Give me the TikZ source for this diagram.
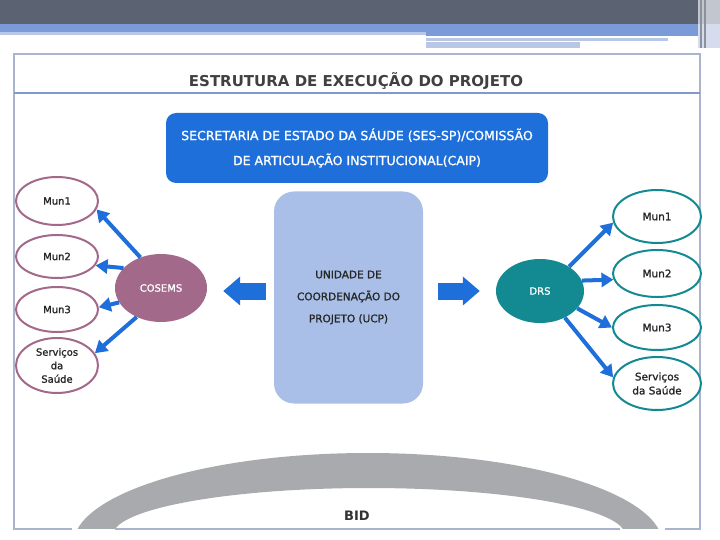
\documentclass[tikz,border=0pt]{standalone}
\usepackage{fontspec}
\setmainfont{DejaVu Sans}
\newfontfamily\thickfont[FakeBold=1.2]{DejaVu Sans}
\usetikzlibrary{arrows.meta,shapes.geometric}
\definecolor{topgray}{HTML}{5B6271}
\definecolor{edgegray}{HTML}{C2C6CF}
\definecolor{edgeblue}{HTML}{D5DCEE}
\definecolor{bandblue}{HTML}{7A9BD8}
\definecolor{paleblue}{HTML}{B9C7E6}
\definecolor{framegray}{HTML}{AAB4CF}
\definecolor{ruleblue}{HTML}{7F9BC9}
\definecolor{sesblue}{HTML}{1E6FD9}
\definecolor{ucpblue}{HTML}{A9BFE7}
\definecolor{cosemsred}{HTML}{A2698A}
\definecolor{drsteal}{HTML}{138A91}
\definecolor{bidgray}{HTML}{A8AAAE}
\definecolor{textgray}{HTML}{404040}
\begin{document}
\begin{tikzpicture}[x=1pt,y=-1pt,
  lmun/.style={ellipse,draw=cosemsred,line width=2pt,fill=white,minimum width=82,inner sep=0pt,align=center,text=black!85,font=\thickfont\fontsize{10}{13.5}\selectfont},
  rmun/.style={ellipse,draw=drsteal,line width=2pt,fill=white,minimum width=88,inner sep=0pt,align=center,text=black!85,font=\thickfont\fontsize{10.5}{14}\selectfont},
  thinarr/.style={draw=sesblue,line width=4pt,-{Triangle[length=12pt,width=14pt]}},
  blockarr/.style={draw=sesblue,line width=17pt,-{Triangle[length=17pt,width=28pt]}}]
  \useasboundingbox (0,0) rectangle (720,540);
  \fill[topgray] (0,0) rectangle (698,24);
  \fill[bandblue] (0,24) rectangle (698,32);
  \fill[paleblue] (0,32) rectangle (426,35);
  \fill[bandblue] (426,32) rectangle (698,36);
  \fill[paleblue] (426,38) rectangle (668,41);
  \fill[paleblue] (426,42) rectangle (580,48);
  \fill[edgegray] (698,0) rectangle (720,24);
  \fill[edgeblue] (698,24) rectangle (720,48);
  \foreach \x in {700,704}{ \fill[topgray!70] (\x,0) rectangle (\x+1.5,48); }

  \draw[framegray,line width=2.5pt] (72,529) -- (14,529) -- (14,54) -- (700,54) -- (700,529) -- (665,529);
  \draw[framegray,line width=2.5pt] (115,529) -- (620,529);
  \draw[ruleblue,line width=2.5pt] (14,93) -- (700,93);
  \node[text=textgray,font=\bfseries\fontsize{15}{18}\selectfont] (titulo) at (356,81) {ESTRUTURA DE EXECUÇÃO DO PROJETO};

  \node[fill=sesblue,rounded corners=10pt,minimum width=382,minimum height=70,align=center,text=white,font=\thickfont\fontsize{12.5}{25}\selectfont] (ses) at (357,148)
    {SECRETARIA DE ESTADO DA SÁUDE (SES-SP)/COMISSÃO\\DE ARTICULAÇÃO INSTITUCIONAL(CAIP)};
  \node[fill=ucpblue,rounded corners=20pt,minimum width=149,minimum height=212,align=center,text=black!85,font=\thickfont\fontsize{10.5}{22}\selectfont] (ucp) at (348.5,297.5)
    {UNIDADE DE\\COORDENAÇÃO DO\\PROJETO (UCP)};

  \node[ellipse,fill=cosemsred,minimum width=92,minimum height=68,inner sep=0pt,text=white,font=\thickfont\fontsize{10}{12}\selectfont] (cosems) at (161,288) {COSEMS};
  \node[ellipse,fill=drsteal,minimum width=88,minimum height=64,inner sep=0pt,text=white,font=\thickfont\fontsize{10}{12}\selectfont] (drs) at (540,291) {DRS};

  \foreach \i/\y/\h/\lab in {1/201/48/{Mun1},2/256.5/43/{Mun2},3/309.5/45/{Mun3},4/365.5/55/{Serviços\\da\\Saúde}}{
    \node[lmun,minimum height=\h] (lmun\i) at (57,\y) {\lab};
  }
  \foreach \i/\y/\h/\lab in {1/216.5/53/{Mun1},2/273.5/47/{Mun2},3/327.5/45/{Mun3},4/383.5/53/{Serviços\\da Saúde}}{
    \node[rmun,minimum height=\h] (rmun\i) at (657,\y) {\lab};
  }

  \foreach \i/\a/\b in {1/124/-12,2/152/-13,3/199/3,4/230/18}{ \draw[thinarr] (cosems.\a) -- (lmun\i.\b); }
  \foreach \i/\a/\b in {1/40/188,2/14/188,3/-25/180,4/-47/172}{ \draw[thinarr] (drs.\a) -- (rmun\i.\b); }

  \draw[blockarr,shorten <=8pt,shorten >=16pt] (ucp.west |- drs.west) -- (cosems.east |- drs.west);
  \draw[blockarr,shorten <=15pt,shorten >=16pt] (ucp.east |- drs.west) -- (drs.west);

  \begin{scope}
    \clip (0,0) rectangle (720,528);
    \fill[bidgray,even odd rule] (368,545) ellipse [x radius=295,y radius=92] (369,535) ellipse [x radius=256,y radius=47];
  \end{scope}
  \node[text=black!80,font=\bfseries\fontsize{13}{15}\selectfont] (bid) at (357,516) {BID};
\end{tikzpicture}
\end{document}
